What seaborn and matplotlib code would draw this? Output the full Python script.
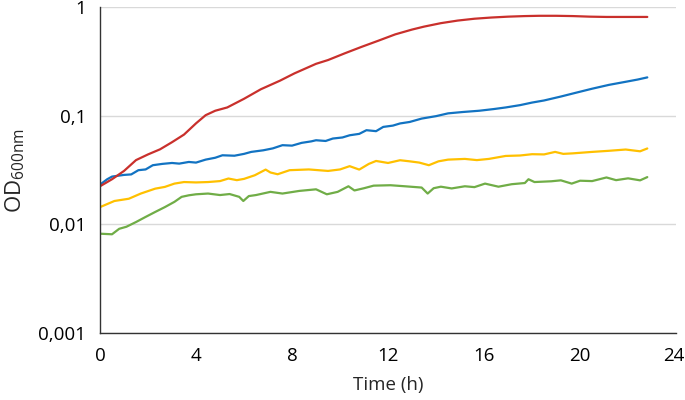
import numpy as np
import pandas as pd
import matplotlib
matplotlib.use("Agg")
import matplotlib.pyplot as plt
import matplotlib.ticker as mticker
import matplotlib.transforms as mtransforms
import seaborn as sns

# ---- data ----
red_t = [0, 0.5, 1, 1.5, 2, 2.5, 3, 3.5, 4, 4.4, 4.8, 5.3, 6, 6.7, 7.5, 8.1, 9, 9.5,
         10.2, 10.9, 11.6, 12.3, 13, 13.5, 14.2, 14.9, 15.6, 16.3, 17, 17.7, 18.3, 19,
         19.7, 20.4, 21.1, 21.8, 22.8]
red_v = [0.0224, 0.026, 0.031, 0.039, 0.044, 0.049, 0.057, 0.067, 0.085, 0.101, 0.111,
         0.119, 0.143, 0.175, 0.21, 0.245, 0.30, 0.325, 0.375, 0.43, 0.49, 0.56, 0.62,
         0.66, 0.71, 0.75, 0.78, 0.80, 0.815, 0.825, 0.83, 0.83, 0.825, 0.815, 0.81,
         0.81, 0.81]

blue_t = [0, 0.3, 0.5, 1.0, 1.3, 1.6, 1.9, 2.2, 2.6, 3.0, 3.3, 3.7, 4.0, 4.4, 4.8, 5.1,
          5.6, 6.0, 6.3, 6.8, 7.2, 7.6, 8.0, 8.4, 8.8, 9.0, 9.4, 9.7, 10.1, 10.4, 10.8,
          11.1, 11.5, 11.8, 12.2, 12.5, 12.9, 13.4, 14.0, 14.5, 15.1, 15.8, 16.4, 16.9,
          17.5, 18.0, 18.5, 19.2, 19.8, 20.5, 21.2, 21.9, 22.4, 22.8]
blue_v = [0.0232, 0.026, 0.0275, 0.0285, 0.0288, 0.0315, 0.032, 0.035, 0.036, 0.0367,
          0.0362, 0.0375, 0.037, 0.0394, 0.041, 0.0432, 0.0428, 0.0445, 0.0464, 0.048,
          0.05, 0.0535, 0.053, 0.0562, 0.058, 0.0594, 0.0585, 0.0616, 0.063, 0.066,
          0.068, 0.0735, 0.072, 0.0788, 0.081, 0.0848, 0.0875, 0.094, 0.099, 0.105,
          0.108, 0.111, 0.115, 0.119, 0.125, 0.132, 0.138, 0.150, 0.162, 0.177, 0.192,
          0.205, 0.215, 0.225]

yellow_t = [0, 0.6, 1.2, 1.7, 2.3, 2.7, 3.1, 3.5, 4.0, 4.5, 5.0, 5.35, 5.7, 6.0, 6.45,
            6.9, 7.1, 7.4, 7.9, 8.7, 9.5, 10.0, 10.4, 10.8, 11.2, 11.5, 12.0, 12.5, 12.9,
            13.3, 13.7, 14.1, 14.5, 15.2, 15.7, 16.2, 16.9, 17.5, 18.0, 18.5, 18.96,
            19.3, 19.7, 20.5, 21.2, 21.9, 22.5, 22.8]
yellow_v = [0.0144, 0.0164, 0.0172, 0.0192, 0.0213, 0.0221, 0.0237, 0.0245, 0.0243,
            0.0245, 0.025, 0.0264, 0.0255, 0.0262, 0.0283, 0.0319, 0.030, 0.0289,
            0.0315, 0.032, 0.031, 0.032, 0.0343, 0.0319, 0.036, 0.0383, 0.0367, 0.0389,
            0.038, 0.037, 0.035, 0.038, 0.0394, 0.040, 0.039, 0.040, 0.0426, 0.043,
            0.0442, 0.044, 0.0464, 0.0445, 0.045, 0.0464, 0.0475, 0.0488, 0.047, 0.0499]

green_t = [0, 0.5, 0.8, 1.1, 1.5, 1.9, 2.3, 2.7, 3.1, 3.4, 3.7, 4.0, 4.5, 5.0, 5.4, 5.8,
           5.97, 6.2, 6.5, 7.1, 7.6, 8.3, 9.0, 9.45, 9.9, 10.35, 10.6, 11.0, 11.4, 12.1,
           12.7, 13.4, 13.65, 13.9, 14.2, 14.65, 15.2, 15.6, 16.04, 16.6, 17.15, 17.7,
           17.85, 18.1, 18.8, 19.2, 19.65, 20.0, 20.5, 21.1, 21.5, 22.0, 22.5, 22.8]
green_v = [0.0082, 0.0081, 0.0091, 0.0095, 0.0105, 0.0117, 0.013, 0.0144, 0.0161,
           0.0179, 0.0185, 0.0189, 0.0192, 0.0186, 0.019, 0.0179, 0.0164, 0.0182,
           0.0186, 0.0199, 0.0192, 0.0203, 0.021, 0.0189, 0.0199, 0.0224, 0.0205,
           0.0215, 0.0227, 0.0229, 0.0224, 0.0218, 0.0192, 0.0215, 0.0222, 0.0214,
           0.0224, 0.022, 0.0237, 0.0222, 0.0234, 0.024, 0.026, 0.0245, 0.0249, 0.0254,
           0.0237, 0.0252, 0.025, 0.027, 0.0255, 0.0265, 0.0254, 0.0272]

series_names = ["green", "yellow", "blue", "red"]
series_colors = {"red": "#C9302C", "blue": "#1273C2", "yellow": "#FFC000", "green": "#70AD47"}

x_ticks = [0, 4, 8, 12, 16, 20, 24]
y_ticks = [0.001, 0.01, 0.1, 1]
y_tick_labels = ["0,001", "0,01", "0,1", "1"]

frames = []
for name, t, v in [("green", green_t, green_v), ("yellow", yellow_t, yellow_v),
                   ("blue", blue_t, blue_v), ("red", red_t, red_v)]:
    frames.append(pd.DataFrame({"time": t, "od": v, "series": name}))
df = pd.concat(frames, ignore_index=True)

# ---- plot ----
sns.set_style("white")
plt.rcParams["font.family"] = ["Open Sans", "DejaVu Sans"]

fig = plt.figure(figsize=(6.85, 4.0), dpi=100)
ax = fig.add_axes([0.146, 0.1675, 0.841, 0.815])

sns.lineplot(data=df, x="time", y="od", hue="series", hue_order=series_names,
             palette=series_colors, estimator=None, sort=True, legend=False,
             linewidth=1.6, ax=ax)

ax.set_yscale("log")
ax.set_ylim(0.001, 1)
ax.set_xlim(0, 24)
ax.set_xticks(x_ticks)
ax.set_xticklabels([str(t) for t in x_ticks])
ax.set_yticks(y_ticks)
ax.set_yticklabels(y_tick_labels)
ax.yaxis.set_minor_locator(mticker.LogLocator(base=10, subs=np.arange(2, 10)))
ax.yaxis.set_minor_formatter(mticker.NullFormatter())

ax.grid(axis="y", which="major", color="#D9D9D9", linewidth=1.0)
ax.grid(axis="x", visible=False)
ax.set_axisbelow(True)

for s in ["top", "right"]:
    ax.spines[s].set_visible(False)
for s in ["left", "bottom"]:
    ax.spines[s].set_color("#333333")
    ax.spines[s].set_linewidth(1.0)

ax.tick_params(axis="both", which="major", direction="out", length=4, width=1,
               color="#333333", labelsize=13.5, labelcolor="black", pad=6)
ax.tick_params(axis="y", which="minor", direction="out", length=4, width=1,
               color="#333333")

# keep the last x tick label ("24") inside the canvas
last = ax.get_xticklabels()[-1]
last.set_horizontalalignment("right")
last.set_transform(last.get_transform() +
                   mtransforms.ScaledTranslation(8 / 100, 0, fig.dpi_scale_trans))

ax.set_xlabel("Time (h)", fontsize=13.5, labelpad=8)
ax.set_ylabel(r"OD$_{\mathregular{600nm}}$", fontsize=16, labelpad=8)

fig.savefig("out.png", dpi=100)
